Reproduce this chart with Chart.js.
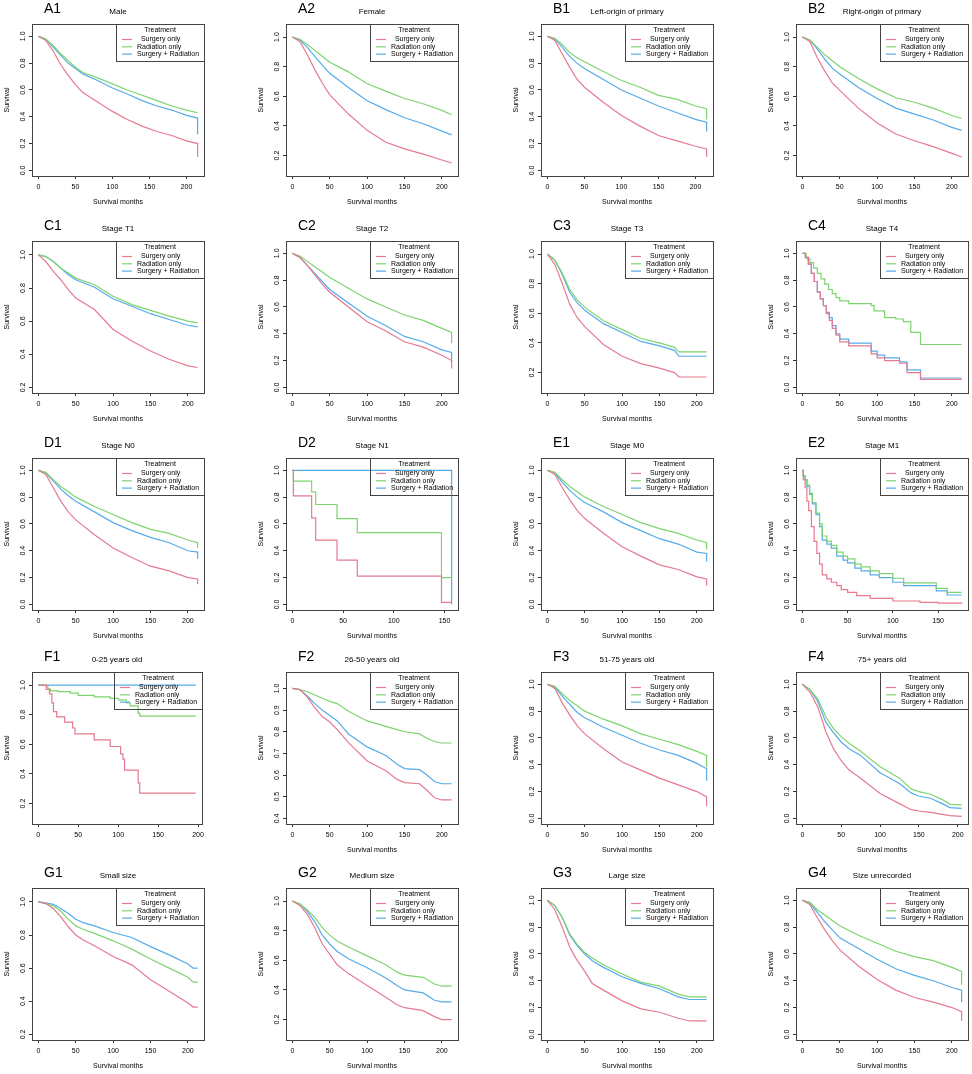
<!DOCTYPE html>
<html>
<head>
<meta charset="utf-8">
<script src="https://cdn.jsdelivr.net/npm/chart.js@4.4.1/dist/chart.umd.min.js"></script>
<style>
  body { margin: 0; background: #fff; width: 972px; height: 1074px; position: relative; overflow: hidden; }
  canvas { position: absolute; }
</style>
</head>
<body>
<script>
// Treatment groups (legend order)
const treatments = ['  Surgery only', 'Radiation only', 'Surgery + Radiation'];

// Panel ids and subtitles
const panelIds = ['A1', 'A2', 'B1', 'B2', 'C1', 'C2', 'C3', 'C4', 'D1', 'D2', 'E1', 'E2', 'F1', 'F2', 'F3', 'F4', 'G1', 'G2', 'G3', 'G4'];
const panelTitles = ['Male', 'Female', 'Left-origin of primary', 'Right-origin of primary',
  'Stage T1', 'Stage T2', 'Stage T3', 'Stage T4',
  'Stage N0', 'Stage N1', 'Stage M0', 'Stage M1',
  '0-25 years old', '26-50 years old', '51-75 years old', '75+ years old',
  'Small size', 'Medium size', 'Large size', 'Size unrecorded'];

// Tick labels
const xTickVals = [0, 50, 100, 150, 200];
const yTicks0 = [0, 0.2, 0.4, 0.6, 0.8, 1.0];
const yTicks02 = [0.2, 0.4, 0.6, 0.8, 1.0];
const yTicks04 = [0.4, 0.5, 0.6, 0.7, 0.8, 0.9, 1.0];

// ---- survival curves (months, survival) ----
const A1_t    = [0, 10, 20, 30, 40, 50, 60, 80, 100, 120, 140, 160, 180, 200, 215, 215];
const A1_surg = [1, 0.97, 0.89, 0.79, 0.71, 0.64, 0.58, 0.51, 0.44, 0.38, 0.33, 0.29, 0.26, 0.22, 0.20, 0.10];
const A1_rad  = [1, 0.98, 0.93, 0.87, 0.82, 0.77, 0.73, 0.69, 0.645, 0.60, 0.56, 0.52, 0.48, 0.45, 0.43, 0.43];
const A1_both = [1, 0.98, 0.92, 0.86, 0.80, 0.76, 0.72, 0.67, 0.615, 0.57, 0.52, 0.48, 0.45, 0.41, 0.39, 0.27];

const A2_t    = [0, 10, 20, 30, 40, 50, 75, 100, 125, 150, 175, 200, 213];
const A2_surg = [1, 0.97, 0.88, 0.78, 0.69, 0.61, 0.48, 0.37, 0.29, 0.245, 0.21, 0.17, 0.15];
const A2_rad  = [1, 0.985, 0.95, 0.91, 0.87, 0.83, 0.765, 0.685, 0.635, 0.585, 0.55, 0.505, 0.475];
const A2_both = [1, 0.98, 0.93, 0.87, 0.81, 0.755, 0.66, 0.57, 0.51, 0.455, 0.415, 0.365, 0.34];

const B1_t    = [0, 10, 20, 30, 40, 50, 75, 100, 125, 150, 175, 200, 215, 215];
const B1_surg = [1, 0.97, 0.87, 0.77, 0.68, 0.62, 0.51, 0.41, 0.33, 0.26, 0.22, 0.18, 0.16, 0.10];
const B1_rad  = [1, 0.985, 0.94, 0.88, 0.84, 0.81, 0.74, 0.67, 0.62, 0.56, 0.53, 0.48, 0.46, 0.38];
const B1_both = [1, 0.98, 0.92, 0.85, 0.80, 0.76, 0.68, 0.60, 0.54, 0.48, 0.43, 0.38, 0.36, 0.29];

const B2_t    = [0, 10, 20, 30, 40, 50, 75, 100, 125, 150, 175, 200, 213];
const B2_surg = [1, 0.97, 0.86, 0.77, 0.69, 0.64, 0.52, 0.42, 0.345, 0.30, 0.26, 0.215, 0.19];
const B2_rad  = [1, 0.98, 0.93, 0.88, 0.84, 0.80, 0.72, 0.65, 0.59, 0.56, 0.52, 0.47, 0.45];
const B2_both = [1, 0.98, 0.92, 0.85, 0.79, 0.75, 0.66, 0.585, 0.52, 0.48, 0.44, 0.39, 0.37];

const C1_t    = [0, 10, 20, 30, 40, 50, 75, 100, 125, 150, 175, 200, 213];
const C1_surg = [1, 0.96, 0.90, 0.85, 0.79, 0.74, 0.67, 0.55, 0.48, 0.42, 0.37, 0.33, 0.32];
const C1_rad  = [1, 0.99, 0.96, 0.92, 0.89, 0.86, 0.82, 0.75, 0.70, 0.665, 0.63, 0.60, 0.59];
const C1_both = [1, 0.99, 0.96, 0.92, 0.88, 0.85, 0.805, 0.735, 0.69, 0.645, 0.61, 0.575, 0.565];

const C2_t    = [0, 10, 20, 30, 40, 50, 75, 100, 125, 150, 175, 200, 213, 213];
const C2_surg = [1, 0.97, 0.91, 0.84, 0.77, 0.71, 0.60, 0.49, 0.42, 0.34, 0.30, 0.24, 0.20, 0.14];
const C2_rad  = [1, 0.98, 0.94, 0.90, 0.86, 0.82, 0.74, 0.66, 0.60, 0.54, 0.50, 0.44, 0.41, 0.33];
const C2_both = [1, 0.97, 0.91, 0.85, 0.79, 0.73, 0.63, 0.53, 0.46, 0.38, 0.34, 0.28, 0.26, 0.19];

const C3_t    = [0, 10, 20, 30, 40, 50, 75, 100, 125, 150, 170, 176, 213];
const C3_surg = [1, 0.93, 0.80, 0.66, 0.57, 0.51, 0.39, 0.31, 0.26, 0.23, 0.20, 0.17, 0.17];
const C3_rad  = [1, 0.96, 0.87, 0.76, 0.69, 0.64, 0.55, 0.49, 0.43, 0.40, 0.37, 0.34, 0.34];
const C3_both = [1, 0.96, 0.86, 0.74, 0.67, 0.62, 0.53, 0.47, 0.41, 0.38, 0.35, 0.31, 0.31];

const C4_t    = [0, 4, 8, 12, 16, 20, 24, 28, 32, 36, 40, 45, 50, 62, 92, 100, 110, 130, 140, 158, 213];
const C4_surg = [1, 0.97, 0.92, 0.85, 0.79, 0.71, 0.66, 0.61, 0.55, 0.50, 0.44, 0.39, 0.34, 0.31, 0.25, 0.22, 0.20, 0.18, 0.11, 0.06, 0.06];
const C4_both = [1, 0.97, 0.92, 0.85, 0.79, 0.71, 0.66, 0.61, 0.56, 0.52, 0.46, 0.40, 0.36, 0.33, 0.27, 0.24, 0.22, 0.19, 0.13, 0.07, 0.07];
const C4_radT = [0, 5, 10, 15, 20, 25, 30, 35, 40, 45, 50, 62, 92, 96, 110, 125, 135, 145, 158, 213];
const C4_rad  = [1, 0.96, 0.93, 0.89, 0.85, 0.81, 0.77, 0.73, 0.70, 0.67, 0.645, 0.625, 0.61, 0.57, 0.52, 0.51, 0.49, 0.41, 0.32, 0.32];

const D1_t    = [0, 10, 20, 30, 40, 50, 75, 100, 125, 150, 175, 200, 213, 213];
const D1_surg = [1, 0.97, 0.87, 0.77, 0.69, 0.63, 0.52, 0.42, 0.35, 0.285, 0.25, 0.20, 0.19, 0.15];
const D1_rad  = [1, 0.985, 0.93, 0.88, 0.84, 0.80, 0.73, 0.67, 0.61, 0.56, 0.53, 0.48, 0.46, 0.42];
const D1_both = [1, 0.98, 0.92, 0.86, 0.81, 0.77, 0.69, 0.61, 0.55, 0.50, 0.46, 0.40, 0.39, 0.34];

const D2_t     = [0, 1, 19, 23, 44, 64, 147, 157];
const D2_surg  = [1, 0.81, 0.645, 0.48, 0.33, 0.21, 0.015, 0.015];
const D2_rad   = [1, 0.92, 0.84, 0.745, 0.64, 0.535, 0.20, 0.20];
const D2_bothT = [0, 157, 157];
const D2_both  = [1, 1, 0.0];

const E1_t    = [0, 10, 20, 30, 40, 50, 75, 100, 125, 150, 175, 200, 213, 213];
const E1_surg = [1, 0.97, 0.87, 0.78, 0.70, 0.64, 0.53, 0.43, 0.36, 0.295, 0.26, 0.205, 0.19, 0.14];
const E1_rad  = [1, 0.985, 0.93, 0.88, 0.84, 0.80, 0.73, 0.67, 0.61, 0.565, 0.53, 0.48, 0.46, 0.41];
const E1_both = [1, 0.98, 0.91, 0.85, 0.80, 0.76, 0.69, 0.61, 0.55, 0.49, 0.45, 0.39, 0.38, 0.32];

const E2_surgT = [0, 1, 3, 5, 7, 10, 13, 16, 19, 22, 27, 32, 38, 43, 50, 60, 75, 100, 130, 150, 176];
const E2_surg  = [1, 0.93, 0.87, 0.77, 0.70, 0.58, 0.47, 0.38, 0.30, 0.22, 0.19, 0.165, 0.14, 0.11, 0.09, 0.065, 0.045, 0.025, 0.015, 0.01, 0.005];
const E2_t     = [0, 1, 3, 5, 8, 11, 15, 19, 22, 27, 32, 38, 45, 50, 58, 65, 75, 85, 100, 112, 148, 160, 176];
const E2_rad   = [1, 0.96, 0.93, 0.89, 0.83, 0.76, 0.68, 0.60, 0.51, 0.47, 0.44, 0.39, 0.36, 0.34, 0.30, 0.28, 0.25, 0.23, 0.195, 0.16, 0.12, 0.09, 0.09];
const E2_both  = [1, 0.96, 0.93, 0.88, 0.82, 0.75, 0.67, 0.58, 0.48, 0.45, 0.42, 0.36, 0.33, 0.31, 0.27, 0.25, 0.22, 0.20, 0.165, 0.14, 0.10, 0.07, 0.07];

const F1_surgT = [0, 10, 14, 17, 19, 23, 33, 43, 46, 70, 90, 103, 106, 108, 125, 127, 197];
const F1_surg  = [1, 0.97, 0.94, 0.88, 0.82, 0.785, 0.75, 0.71, 0.67, 0.63, 0.585, 0.535, 0.50, 0.425, 0.34, 0.27, 0.27];
const F1_radT  = [0, 10, 12, 15, 25, 40, 50, 70, 90, 100, 110, 115, 125, 127, 197];
const F1_rad   = [1, 0.99, 0.975, 0.96, 0.955, 0.945, 0.93, 0.92, 0.91, 0.90, 0.88, 0.86, 0.81, 0.79, 0.79];
const F1_bothT = [0, 197];
const F1_both  = [1, 1];

const F2_t    = [0, 10, 20, 30, 40, 50, 60, 75, 100, 125, 140, 150, 170, 180, 190, 200, 213];
const F2_surg = [1, 0.995, 0.96, 0.91, 0.87, 0.845, 0.81, 0.75, 0.665, 0.62, 0.58, 0.565, 0.56, 0.53, 0.495, 0.485, 0.485];
const F2_rad  = [1, 0.995, 0.985, 0.97, 0.955, 0.94, 0.93, 0.895, 0.85, 0.825, 0.81, 0.80, 0.79, 0.77, 0.755, 0.748, 0.748];
const F2_both = [1, 0.995, 0.965, 0.93, 0.90, 0.875, 0.85, 0.79, 0.73, 0.69, 0.65, 0.63, 0.625, 0.60, 0.57, 0.56, 0.56];

const F3_t    = [0, 10, 20, 30, 40, 50, 75, 100, 125, 150, 175, 200, 213, 213];
const F3_surg = [1, 0.97, 0.86, 0.77, 0.69, 0.63, 0.52, 0.42, 0.36, 0.30, 0.25, 0.20, 0.16, 0.09];
const F3_rad  = [1, 0.985, 0.93, 0.88, 0.84, 0.80, 0.74, 0.69, 0.63, 0.59, 0.55, 0.50, 0.47, 0.38];
const F3_both = [1, 0.98, 0.91, 0.85, 0.79, 0.75, 0.68, 0.62, 0.56, 0.51, 0.47, 0.41, 0.37, 0.28];

const F4_t    = [0, 10, 20, 30, 40, 50, 60, 75, 100, 125, 140, 150, 165, 180, 190, 205];
const F4_surg = [1, 0.94, 0.83, 0.65, 0.52, 0.43, 0.36, 0.30, 0.185, 0.11, 0.065, 0.055, 0.045, 0.03, 0.02, 0.015];
const F4_rad  = [1, 0.96, 0.89, 0.76, 0.67, 0.61, 0.56, 0.50, 0.385, 0.30, 0.22, 0.20, 0.18, 0.14, 0.105, 0.10];
const F4_both = [1, 0.96, 0.87, 0.72, 0.64, 0.57, 0.52, 0.47, 0.34, 0.26, 0.19, 0.165, 0.15, 0.11, 0.08, 0.075];

const G1_t    = [0, 10, 20, 30, 40, 50, 60, 75, 100, 125, 150, 175, 200, 207, 213];
const G1_surg = [1, 0.99, 0.96, 0.91, 0.85, 0.80, 0.77, 0.735, 0.67, 0.62, 0.53, 0.46, 0.39, 0.365, 0.365];
const G1_rad  = [1, 0.99, 0.975, 0.945, 0.895, 0.855, 0.835, 0.81, 0.765, 0.715, 0.655, 0.60, 0.545, 0.515, 0.515];
const G1_both = [1, 0.995, 0.985, 0.96, 0.93, 0.895, 0.875, 0.855, 0.815, 0.785, 0.73, 0.68, 0.625, 0.60, 0.60];

const G2_t    = [0, 10, 20, 30, 40, 50, 60, 75, 100, 125, 140, 150, 175, 190, 200, 213];
const G2_surg = [1, 0.97, 0.91, 0.82, 0.71, 0.64, 0.57, 0.51, 0.43, 0.35, 0.30, 0.28, 0.26, 0.22, 0.20, 0.20];
const G2_rad  = [1, 0.98, 0.94, 0.89, 0.82, 0.77, 0.73, 0.69, 0.63, 0.57, 0.52, 0.50, 0.485, 0.44, 0.425, 0.425];
const G2_both = [1, 0.98, 0.93, 0.86, 0.77, 0.71, 0.66, 0.61, 0.55, 0.48, 0.43, 0.40, 0.38, 0.33, 0.32, 0.32];

const G3_t    = [0, 10, 20, 30, 40, 50, 60, 75, 100, 125, 150, 175, 190, 213];
const G3_surg = [1, 0.93, 0.80, 0.65, 0.55, 0.47, 0.38, 0.33, 0.25, 0.19, 0.165, 0.12, 0.10, 0.10];
const G3_rad  = [1, 0.96, 0.87, 0.75, 0.67, 0.61, 0.57, 0.52, 0.45, 0.39, 0.36, 0.30, 0.28, 0.28];
const G3_both = [1, 0.96, 0.87, 0.74, 0.66, 0.60, 0.55, 0.50, 0.43, 0.38, 0.34, 0.28, 0.26, 0.26];

const G4_t    = [0, 10, 20, 30, 40, 50, 75, 100, 125, 150, 175, 200, 213, 213];
const G4_surg = [1, 0.97, 0.87, 0.78, 0.70, 0.63, 0.51, 0.41, 0.33, 0.275, 0.24, 0.20, 0.17, 0.10];
const G4_rad  = [1, 0.985, 0.93, 0.89, 0.85, 0.81, 0.74, 0.68, 0.62, 0.58, 0.55, 0.50, 0.47, 0.37];
const G4_both = [1, 0.98, 0.91, 0.84, 0.78, 0.72, 0.64, 0.56, 0.49, 0.44, 0.40, 0.35, 0.33, 0.24];

// lower end of survival range / last follow-up month for each panel
const panelYLow = [0, 0.1, 0, 0.1, 0.2, 0, 0.1, 0, 0, 0, 0, 0, 0.1, 0.4, 0, 0, 0.2, 0.1, 0, 0];
const panelXMax = [215, 213, 215, 213, 213, 213, 213, 213, 213, 157, 213, 176, 197, 213, 213, 205, 213, 213, 213, 213];
const panelYTicks = [yTicks0, yTicks02, yTicks0, yTicks02, yTicks02, yTicks0, yTicks02, yTicks0,
  yTicks0, yTicks0, yTicks0, yTicks0, yTicks02, yTicks04, yTicks0, yTicks0,
  yTicks02, yTicks02, yTicks0, yTicks0];

const panelSeries = [
  [[A1_t, A1_surg], [A1_t, A1_rad], [A1_t, A1_both]],
  [[A2_t, A2_surg], [A2_t, A2_rad], [A2_t, A2_both]],
  [[B1_t, B1_surg], [B1_t, B1_rad], [B1_t, B1_both]],
  [[B2_t, B2_surg], [B2_t, B2_rad], [B2_t, B2_both]],
  [[C1_t, C1_surg], [C1_t, C1_rad], [C1_t, C1_both]],
  [[C2_t, C2_surg], [C2_t, C2_rad], [C2_t, C2_both]],
  [[C3_t, C3_surg], [C3_t, C3_rad], [C3_t, C3_both]],
  [[C4_t, C4_surg], [C4_radT, C4_rad], [C4_t, C4_both]],
  [[D1_t, D1_surg], [D1_t, D1_rad], [D1_t, D1_both]],
  [[D2_t, D2_surg], [D2_t, D2_rad], [D2_bothT, D2_both]],
  [[E1_t, E1_surg], [E1_t, E1_rad], [E1_t, E1_both]],
  [[E2_surgT, E2_surg], [E2_t, E2_rad], [E2_t, E2_both]],
  [[F1_surgT, F1_surg], [F1_radT, F1_rad], [F1_bothT, F1_both]],
  [[F2_t, F2_surg], [F2_t, F2_rad], [F2_t, F2_both]],
  [[F3_t, F3_surg], [F3_t, F3_rad], [F3_t, F3_both]],
  [[F4_t, F4_surg], [F4_t, F4_rad], [F4_t, F4_both]],
  [[G1_t, G1_surg], [G1_t, G1_rad], [G1_t, G1_both]],
  [[G2_t, G2_surg], [G2_t, G2_rad], [G2_t, G2_both]],
  [[G3_t, G3_surg], [G3_t, G3_rad], [G3_t, G3_both]],
  [[G4_t, G4_surg], [G4_t, G4_rad], [G4_t, G4_both]]
];
const steppedPanels = ['C4', 'D2', 'E2', 'F1'];
const noXTitle = ['F1'];

// layout of the grid (plot box corners)
const colLeft = [32, 286, 541, 796];
const rowTop = [24, 241, 458, 672, 888];
const boxW = 172, boxH = 152;
const lineColors = ['#E57A90', '#7ED46F', '#56ABE9'];

Chart.defaults.font.family = '"Liberation Sans", Arial, sans-serif';
Chart.defaults.color = '#000';

// box, panel letter, subtitle and the R-style legend
const panelDeco = {
  id: 'panelDeco',
  afterDraw(chart, args, opts) {
    const { ctx, chartArea: a } = chart;
    ctx.save();
    ctx.strokeStyle = '#444';
    ctx.lineWidth = 1;
    ctx.strokeRect(Math.round(a.left) + 0.5, Math.round(a.top) + 0.5, Math.round(a.right - a.left), Math.round(a.bottom - a.top));

    ctx.fillStyle = '#000';
    ctx.textBaseline = 'middle';
    ctx.textAlign = 'left';
    ctx.font = '14px "Liberation Sans"';
    ctx.fillText(opts.id, a.left + 12, a.top - 15);
    ctx.font = '8px "Liberation Sans"';
    ctx.textAlign = 'center';
    ctx.fillText(opts.title, (a.left + a.right) / 2, a.top - 12);

    const lw = 88, lh = 37;
    const lx = Math.round(a.right) - lw, ly = Math.round(a.top);
    ctx.strokeRect(lx + 0.5, ly + 0.5, lw, lh);
    ctx.font = '7px "Liberation Sans"';
    ctx.fillText('Treatment', lx + lw / 2, ly + 6);
    chart.data.datasets.forEach((d, k) => {
      const yy = ly + 15.5 + k * 7.3;
      ctx.strokeStyle = d.borderColor;
      ctx.lineWidth = 1.2;
      ctx.beginPath();
      ctx.moveTo(lx + 6, yy);
      ctx.lineTo(lx + 16, yy);
      ctx.stroke();
      ctx.textAlign = 'left';
      ctx.fillText(d.label, lx + 21, yy);
    });
    ctx.restore();
  }
};

function makePanel(idx) {
  const col = idx % 4, row = Math.floor(idx / 4);
  const l = colLeft[col], t = rowTop[row];
  const cv = document.createElement('canvas');
  cv.width = boxW + 44;
  cv.height = boxH + 64;
  cv.style.left = (l - 40) + 'px';
  cv.style.top = (t - 30) + 'px';
  document.body.appendChild(cv);

  const id = panelIds[idx];
  const lo = panelYLow[idx];
  const xMax = panelXMax[idx];
  const yT = panelYTicks[idx];
  const stepped = steppedPanels.includes(id);

  const datasets = panelSeries[idx].map((s, k) => ({
    label: treatments[k],
    data: s[0].map((x, i) => ({ x: x, y: s[1][i] })),
    borderColor: lineColors[k],
    borderWidth: 1.2,
    pointRadius: 0,
    tension: 0,
    fill: false,
    stepped: stepped
  }));

  const gridOpts = { drawOnChartArea: false, drawTicks: true, tickLength: 3, color: '#333', lineWidth: 1 };

  new Chart(cv, {
    type: 'line',
    data: { datasets: datasets },
    options: {
      responsive: false,
      animation: false,
      layout: { padding: { top: 30, left: 0, right: 4, bottom: 0 } },
      plugins: {
        legend: { display: false },
        tooltip: { enabled: false },
        panelDeco: { id: id, title: panelTitles[idx] }
      },
      scales: {
        x: {
          type: 'linear',
          min: -0.04 * xMax,
          max: 1.04 * xMax,
          afterBuildTicks: s => { s.ticks = xTickVals.filter(v => v <= s.max).map(v => ({ value: v })); },
          afterFit: s => { s.height = 34; },
          grid: gridOpts,
          border: { display: false },
          ticks: { font: { size: 7 }, color: '#000', padding: 4, maxRotation: 0, autoSkip: false, callback: v => String(v) },
          title: { display: !noXTitle.includes(id), text: 'Survival months', font: { size: 7 }, color: '#000', padding: { top: 0, bottom: 4 } }
        },
        y: {
          type: 'linear',
          min: lo - 0.04 * (1.05 - lo),
          max: 1.05 + 0.04 * (1.05 - lo),
          afterBuildTicks: s => { s.ticks = yT.map(v => ({ value: v })); },
          afterFit: s => { s.width = 40; },
          grid: gridOpts,
          border: { display: false },
          ticks: { font: { size: 7 }, color: '#000', padding: 1, minRotation: 90, maxRotation: 90, crossAlign: 'center', autoSkip: false, callback: v => v.toFixed(1) },
          title: { display: true, text: 'Survival', font: { size: 7 }, color: '#000', padding: { top: 11, bottom: 0 } }
        }
      }
    },
    plugins: [panelDeco]
  });
}

for (let i = 0; i < panelIds.length; i++) makePanel(i);
</script>
</body>
</html>
